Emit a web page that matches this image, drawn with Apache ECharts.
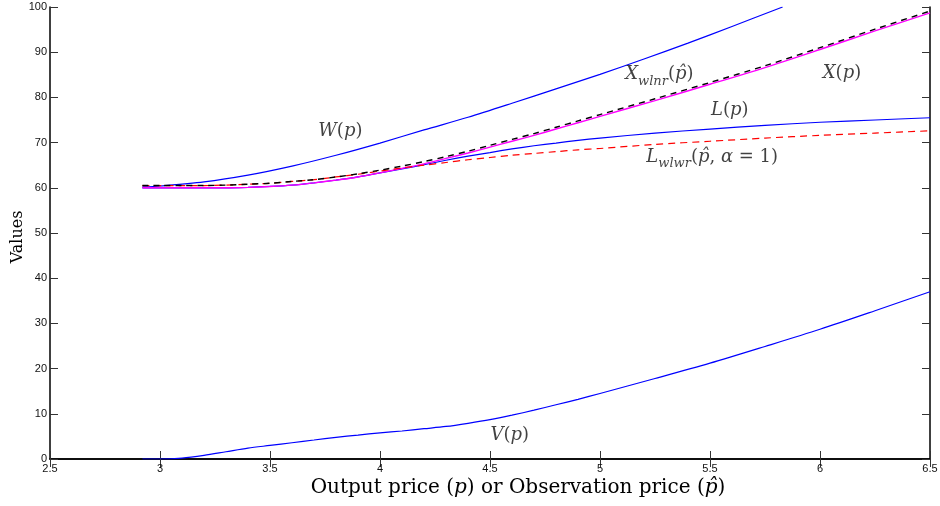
<!DOCTYPE html>
<html>
<head>
<meta charset="utf-8">
<script src="https://cdn.jsdelivr.net/npm/echarts@6/dist/echarts.min.js"></script>
<style>
html,body{margin:0;padding:0;background:#fff;}
#chart{width:940px;height:506px;}
</style>
</head>
<body>
<div id="chart"></div>
<script>
// Common price grid (p or p-hat)
const prices = [2.92, 3.0, 3.1, 3.2, 3.3, 3.4, 3.5, 3.6, 3.7, 3.8, 3.9, 4.0, 4.1, 4.2, 4.3, 4.4, 4.5, 4.6, 4.7, 4.8, 4.9, 5.0, 5.25, 5.5, 5.75, 6.0, 6.25, 6.5];
const X_p    = [60.0, 60.0, 60.0, 60.0, 60.0, 60.1, 60.3, 60.6, 61.1, 61.7, 62.4, 63.3, 64.3, 65.3, 66.5, 67.7, 69.0, 70.3, 71.6, 73.0, 74.4, 75.8, 79.3, 82.9, 86.6, 90.6, 94.7, 98.7];
const X_wlnr = [60.5, 60.5, 60.5, 60.5, 60.6, 60.8, 61.0, 61.4, 61.8, 62.4, 63.1, 63.9, 64.8, 65.8, 66.9, 68.1, 69.4, 70.7, 72.0, 73.4, 74.8, 76.2, 79.7, 83.3, 87.0, 91.0, 95.1, 99.1];
const L_p    = [60.0, 60.0, 60.0, 60.0, 60.0, 60.1, 60.3, 60.6, 61.1, 61.7, 62.4, 63.3, 64.2, 65.1, 66.1, 67.0, 67.8, 68.6, 69.3, 69.9, 70.5, 71.0, 72.1, 73.0, 73.8, 74.5, 75.0, 75.5];
const L_wlwr = [60.5, 60.5, 60.5, 60.5, 60.6, 60.8, 61.0, 61.4, 61.8, 62.4, 63.0, 63.7, 64.4, 65.0, 65.6, 66.2, 66.7, 67.2, 67.6, 68.0, 68.4, 68.7, 69.6, 70.3, 71.0, 71.6, 72.1, 72.6];
const V_p    = [0.0, 0.0, 0.2, 0.8, 1.6, 2.4, 3.0, 3.6, 4.2, 4.8, 5.3, 5.8, 6.2, 6.7, 7.2, 7.9, 8.7, 9.7, 10.8, 12.0, 13.2, 14.5, 17.8, 21.2, 24.9, 28.7, 32.8, 37.0];
// W(p) leaves the plot at the top
const W_prices = [2.92, 3.0, 3.2, 3.4, 3.6, 3.8, 4.0, 4.2, 4.4, 4.6, 4.8, 5.0, 5.2, 5.4, 5.6, 5.83];
const W_p      = [60.2, 60.4, 61.3, 62.8, 64.8, 67.2, 69.9, 72.8, 75.6, 78.7, 81.9, 85.1, 88.5, 92.0, 95.7, 100.0];

// Axis ticks
const xTicks = { min: 2.5, max: 6.5, interval: 0.5 };
const yTicks = { min: 0, max: 100, interval: 10 };

// Axis titles
const xTitle = 'Output price ({it|p}) or Observation price ({it|p̂})';
const yTitle = 'Values';

// Curve annotations: [x, y, rich text]
const annotations = [
  [3.82, 72.6, '{it|W}{rm|(}{it|p}{rm|)}'],
  [5.27, 85.0, '{it|X}{sub|wlnr}{rm|(}{it|p̂}{rm|)}'],
  [6.10, 85.4, '{it|X}{rm|(}{it|p}{rm|)}'],
  [5.59, 77.2, '{it|L}{rm|(}{it|p}{rm|)}'],
  [5.51, 66.8, '{it|L}{sub|wlwr}{rm|(}{it|p̂}{rm|, }{it|α}{rm| = 1)}'],
  [4.59, 5.3, '{it|V}{rm|(}{it|p}{rm|)}']
];

const zip = (xs, ys) => xs.map((x, i) => [x, ys[i]]);
const serif = 'DejaVu Serif';
const richStyles = {
  it: { fontFamily: serif, fontStyle: 'italic', fontSize: 18, color: '#111', lineHeight: 26 },
  rm: { fontFamily: serif, fontSize: 18, color: '#111', lineHeight: 26 },
  sub: { fontFamily: serif, fontStyle: 'italic', fontSize: 13, color: '#111', lineHeight: 13, verticalAlign: 'bottom' }
};

const axisLineStyle = { lineStyle: { color: '#000', width: 1.5 } };
const tickStyle = { show: true, inside: true, length: 8, lineStyle: { color: '#333', width: 1 } };
const labelFont = { fontFamily: 'Liberation Sans', fontSize: 11, color: '#111' };

const chart = echarts.init(document.getElementById('chart'), null, { renderer: 'canvas' });
chart.setOption({
  animation: false,
  backgroundColor: '#fff',
  grid: { left: 50, right: 10, top: 7, bottom: 47, containLabel: false, outerBoundsMode: 'none' },
  graphic: [
    { type: 'text', x: 518, y: 488, silent: true,
      style: { text: xTitle, fontFamily: serif, fontSize: 20, fill: '#000', align: 'center', verticalAlign: 'middle',
        rich: { it: { fontFamily: serif, fontStyle: 'italic', fontSize: 20, fill: '#000' } } } },
    { type: 'text', x: 18, y: 237, rotation: Math.PI / 2, silent: true,
      style: { text: yTitle, fontFamily: serif, fontSize: 16, fill: '#000', align: 'center', verticalAlign: 'middle' } }
  ],
  xAxis: [
    {
      type: 'value', min: xTicks.min, max: xTicks.max, interval: xTicks.interval,
      position: 'bottom',
      axisLine: axisLineStyle, axisTick: tickStyle, splitLine: { show: false },
      axisLabel: Object.assign({ margin: 4 }, labelFont)
    },
    {
      type: 'value', min: xTicks.min, max: xTicks.max, interval: xTicks.interval,
      position: 'top',
      axisLine: axisLineStyle, axisTick: tickStyle, splitLine: { show: false },
      axisLabel: { show: false }
    }
  ],
  yAxis: [
    {
      type: 'value', min: yTicks.min, max: yTicks.max, interval: yTicks.interval,
      position: 'left',
      axisLine: axisLineStyle, axisTick: tickStyle, splitLine: { show: false },
      axisLabel: Object.assign({ margin: 3 }, labelFont)
    },
    {
      type: 'value', min: yTicks.min, max: yTicks.max, interval: yTicks.interval,
      position: 'right',
      axisLine: axisLineStyle, axisTick: tickStyle, splitLine: { show: false },
      axisLabel: { show: false }
    }
  ],
  series: [
    { name: 'W(p)', type: 'line', data: zip(W_prices, W_p), smooth: 0.3, showSymbol: false,
      lineStyle: { color: '#0000ff', width: 1.2 }, z: 2 },
    { name: 'V(p)', type: 'line', data: zip(prices, V_p), smooth: 0.3, showSymbol: false,
      lineStyle: { color: '#0000ff', width: 1.2 }, z: 2 },
    { name: 'L(p)', type: 'line', data: zip(prices, L_p), smooth: 0.3, showSymbol: false,
      lineStyle: { color: '#0000ff', width: 1.2 }, z: 2 },
    { name: 'X(p)', type: 'line', data: zip(prices, X_p), smooth: 0.3, showSymbol: false,
      lineStyle: { color: '#ff00ff', width: 1.4 }, z: 3 },
    { name: 'L_wlwr', type: 'line', data: zip(prices, L_wlwr), smooth: 0.3, showSymbol: false,
      lineStyle: { color: '#ff0000', width: 1.2, type: [7, 5] }, z: 4 },
    { name: 'X_wlnr', type: 'line', data: zip(prices, X_wlnr), smooth: 0.3, showSymbol: false,
      lineStyle: { color: '#000000', width: 1.4, type: [6, 5] }, z: 5 },
    { name: 'labels', type: 'scatter', symbolSize: 0, silent: true, z: 10,
      data: annotations.map(a => ({ value: [a[0], a[1]], label: { formatter: a[2] } })),
      label: { show: true, position: 'inside', rich: richStyles, color: '#111' } }
  ]
});
</script>
</body>
</html>
